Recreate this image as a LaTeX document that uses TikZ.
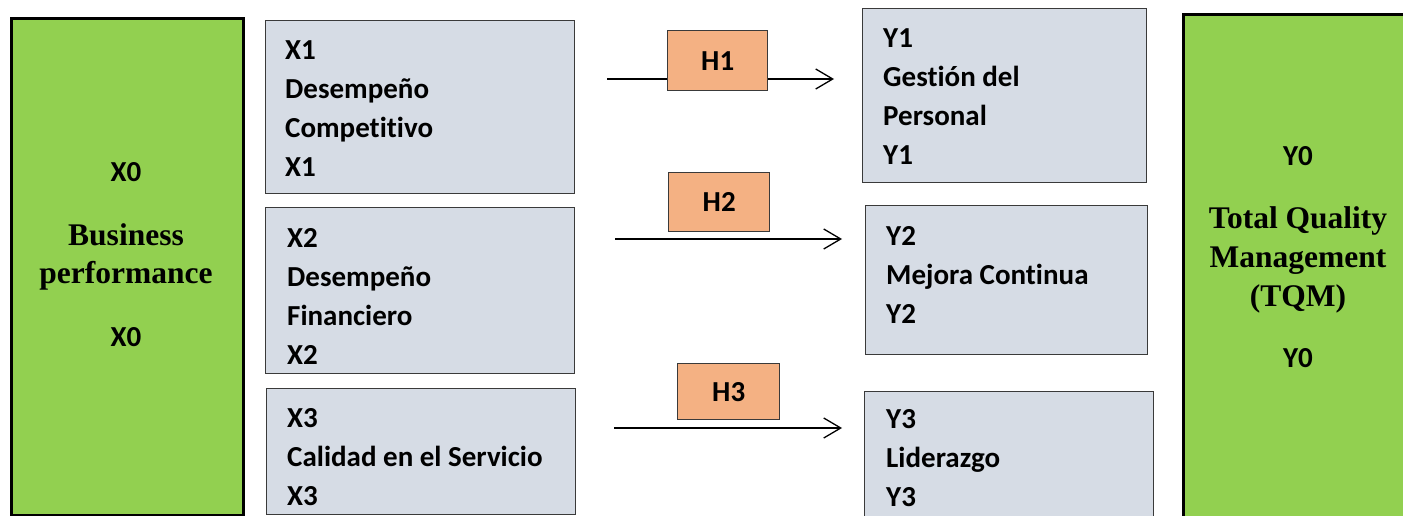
\documentclass[tikz,border=0pt]{standalone}
\usepackage{fontspec}
\setmainfont{Carlito}[Ligatures=NoCommon]
\newfontfamily\serifbf{Liberation Serif}
\usepackage{tikz}
\usetikzlibrary{arrows.meta}
\definecolor{leaf}{HTML}{92D050}
\definecolor{slate}{HTML}{D6DCE5}
\definecolor{peach}{HTML}{F4B183}
\definecolor{edge}{HTML}{3A3A3A}
\tikzset{
  greenbox/.style={draw=black, line width=2.6pt, fill=leaf, anchor=north west, inner sep=0},
  varbox/.style={draw=edge, line width=1.4pt, fill=slate, anchor=north west, inner sep=0},
  vartext/.style={anchor=north west, inner sep=0, align=left, font=\bfseries\fontsize{29}{39}\selectfont},
  hypbox/.style={draw=edge, line width=1.4pt, fill=peach, anchor=north west, inner sep=0,
    font=\bfseries\fontsize{29}{39}\selectfont},
  tag/.style={anchor=base, inner sep=0, font=\bfseries\fontsize{29}{39}\selectfont},
  title/.style={anchor=base, inner sep=0, font=\serifbf\bfseries\fontsize{31.5}{39.5}\selectfont},
  link/.style={line width=1.3pt, -{Straight Barb[length=17pt,width=20pt]}}
}

\begin{document}
\begin{tikzpicture}[x=1pt,y=-1pt]
  \useasboundingbox (0,0) rectangle (1403,516);
  \clip (0,0) rectangle (1403,516);

  % independent and dependent blocks
  \node[greenbox, minimum width=232, minimum height=497] (x0) at (10,17) {};
  \node[greenbox, minimum width=260, minimum height=560] (y0) at (1182,13) {};

  \node[tag] (x0a) at (126,181) {X0};
  \node[title] (x0b) at (126,245) {Business};
  \node[title] (x0c) at (126,283) {performance};
  \node[tag] (x0d) at (126,346) {X0};

  \node[tag] (y0a) at (1298,165) {Y0};
  \node[title] (y0b) at (1298,228) {Total Quality};
  \node[title] (y0c) at (1298,267) {Management};
  \node[title] (y0d) at (1298,306) {(TQM)};
  \node[tag] (y0e) at (1298,367) {Y0};

  % dimensions of X0
  \node[varbox, minimum width=309, minimum height=173] (x1) at (265,20) {};
  \node[varbox, minimum width=309, minimum height=166] (x2) at (265,207) {};
  \node[varbox, minimum width=309, minimum height=126] (x3) at (266,388) {};
  \node[vartext] (x1t) at (285,40) {X1\\Desempeño\\Competitivo\\X1};
  \node[vartext] (x2t) at (287,228) {X2\\Desempeño\\Financiero\\X2};
  \node[vartext] (x3t) at (287,408) {X3\\Calidad en el Servicio\\X3};

  % dimensions of Y0
  \node[varbox, minimum width=284, minimum height=174] (y1) at (862,8) {};
  \node[varbox, minimum width=282, minimum height=149] (y2) at (865,205) {};
  \node[varbox, minimum width=289, minimum height=140] (y3) at (864,391) {};
  \node[vartext] (y1t) at (883,28) {Y1\\Gestión del\\Personal\\Y1};
  \node[vartext] (y2t) at (886,226) {Y2\\Mejora Continua\\Y2};
  \node[vartext] (y3t) at (886,409) {Y3\\Liderazgo\\Y3};

  % hypotheses
  \coordinate (a1) at (607,79);  \coordinate (b1) at (834,79);
  \coordinate (a2) at (615,239); \coordinate (b2) at (842,239);
  \coordinate (a3) at (614,428); \coordinate (b3) at (842,428);
  \draw[link] (a1) -- (b1);
  \draw[link] (a2) -- (b2);
  \draw[link] (a3) -- (b3);

  \node[hypbox, minimum width=100, minimum height=60] (h1) at (667,30) {H1};
  \node[hypbox, minimum width=101, minimum height=59] (h2) at (668,172) {H2};
  \node[hypbox, minimum width=102, minimum height=56] (h3) at (677,363) {H3};
\end{tikzpicture}
\end{document}
